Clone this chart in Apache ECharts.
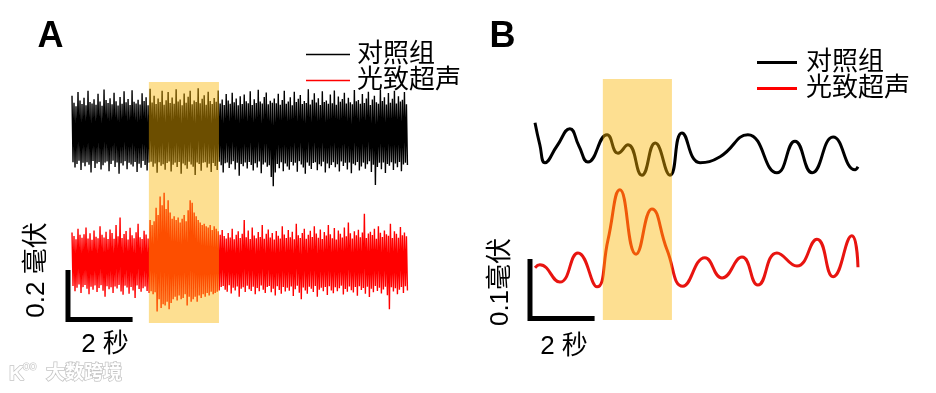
<!DOCTYPE html>
<html><head><meta charset="utf-8">
<script src="https://cdn.jsdelivr.net/npm/echarts@6/dist/echarts.min.js"></script>
<style>html,body{margin:0;padding:0;background:#fff}#c{width:936px;height:393px}</style>
</head><body><div id="c"></div>
<script>
// ---------- labels ----------
const legendNames = ['对照组', '光致超声'];
const panelLabels = ['A', 'B'];
const scaleTextA = ['0.2 毫伏', '2 秒'];
const scaleTextB = ['0.1毫伏', '2 秒'];

// ---------- Panel A: raw recordings (µV), one sample every DT_A seconds ----------
const DT_A = 0.031;
const controlA = [
  150,-118,122,-140,108,-126,165,-112,131,-150,117,-121,
  142,-135,112,-118,170,-129,125,-160,119,-113,136,-142,
  114,-124,158,-117,127,-148,110,-131,175,-120,133,-115,
  121,-155,140,-126,116,-112,162,-138,128,-119,111,-165,
  145,-123,118,-132,168,-114,124,-147,137,-121,113,-128,
  172,-136,126,-117,119,-158,134,-125,115,-141,160,-113,
  129,-130,144,-152,112,-120,178,-116,123,-137,150,-124,
  117,-161,139,-118,125,-133,170,-127,114,-149,132,-122,
  165,-115,121,-156,143,-129,118,-120,176,-138,127,-117,
  135,-165,112,-124,159,-131,122,-145,146,-116,170,-128,
  116,-137,131,-170,125,-119,180,-126,120,-153,138,-121,
  152,-118,114,-140,166,-125,129,-158,117,-122,141,-134,
  126,-150,171,-116,119,-131,135,-160,113,-123,157,-119,
  131,-142,118,-127,162,-114,124,-148,139,-121,112,-173,
  148,-126,117,-135,155,-119,128,-144,120,-117,168,-130,
  113,-152,136,-123,121,-140,174,-115,127,-163,119,-128,
  145,-120,163,-137,116,-131,130,-178,122,-215,139,-160,
  120,-126,158,-143,114,-118,133,-155,170,-124,118,-136,
  127,-149,144,-117,112,-132,166,-121,125,-157,138,-114,
  153,-128,117,-140,129,-165,121,-119,176,-133,115,-146,
  134,-122,160,-118,123,-151,140,-127,113,-135,168,-116,
  125,-160,131,-124,118,-143,155,-130,120,-118,171,-139,
  114,-127,147,-156,126,-115,137,-134,162,-121,119,-148,
  142,-119,124,-163,116,-125,173,-131,128,-117,133,-152,
  118,-136,157,-120,121,-145,139,-127,166,-114,113,-158,
  135,-129,150,-210,124,-138,118,-121,175,-147,129,-119,
  144,-162,115,-126,161,-133,122,-118,138,-150,170,-124,
  119,-139,148,-117,127,-155,134,-128,165,-121,116,-130
];
const sonoA = [
  120,-96,105,-118,92,-104,135,-90,110,-125,98,-101,
  113,-92,140,-108,95,-130,117,-99,90,-112,128,-94,
  102,-121,96,-105,145,-93,111,-116,99,-140,123,-97,
  93,-110,132,-102,118,-125,94,-98,150,-107,104,-92,
  180,-119,97,-132,114,-95,126,-103,91,-128,139,-100,
  108,-115,96,-145,121,-94,155,-109,100,-120,93,-106,
  127,-98,112,-117,95,-125,170,-118,150,-130,165,-122,
  220,-200,190,-150,265,-185,230,-170,280,-175,215,-160,
  250,-190,200,-165,175,-150,185,-140,170,-155,180,-135,
  160,-150,175,-145,190,-130,165,-175,210,-140,250,-160,
  240,-150,200,-140,185,-160,170,-135,160,-145,150,-130,
  155,-140,145,-125,140,-135,150,-120,130,-130,145,-125,
  135,-120,125,-115,110,-100,130,-96,105,-112,95,-120,
  118,-93,99,-127,135,-104,92,-115,110,-98,125,-140,
  97,-108,115,-102,170,-121,100,-95,128,-110,93,-117,
  140,-99,107,-130,96,-105,122,-118,101,-94,150,-112,
  94,-125,115,-100,132,-96,99,-122,118,-108,91,-135,
  126,-97,106,-113,95,-128,145,-101,112,-119,97,-104,
  130,-116,100,-98,123,-137,92,-110,155,-95,108,-124,
  97,-150,118,-103,135,-115,94,-128,110,-99,127,-108,
  101,-121,145,-96,116,-140,98,-112,132,-104,93,-118,
  122,-100,107,-133,150,-97,113,-115,96,-126,138,-102,
  91,-118,128,-106,115,-95,99,-131,140,-109,104,-120,
  160,-98,117,-114,95,-123,125,-101,108,-136,131,-97,
  100,-113,120,-105,195,-128,97,-99,116,-141,123,-108,
  109,-122,135,-96,94,-117,145,-104,119,-127,101,-111,
  128,-99,113,-134,106,-190,155,-102,97,-119,125,-106,
  115,-130,98,-112,142,-101,108,-125,120,-97,104,-115
];
const stimA = [2.38, 4.55];      // stimulation window (s)
const scaleA = [2, 0.2];         // scale bar: seconds, millivolts

// ---------- Panel B: filtered (smoothed) recordings (µV) ----------
const controlB_t = [0.00,0.15,0.31,0.68,1.08,1.36,1.64,2.23,2.57,2.88,3.31,3.72,4.18,4.55,5.11,5.73,6.59,7.49,8.05,8.58,9.23,9.91,10.00];
const controlB   = [49,12,-18,10,39,10,-17,29,-2,12,-39,15,-39,32,-18,-8,29,-35,18,-35,25,-30,-25];
const sonoB_t = [0.00,0.15,0.77,1.33,1.92,2.26,2.63,3.13,3.62,4.09,4.58,5.26,5.79,6.41,6.90,7.49,8.11,8.73,9.23,9.81,10.00];
const sonoB   = [7,12,-17,32,-25,54,138,30,106,37,-24,24,-10,25,-22,32,10,55,-8,61,8];
const stimB = [2.1, 4.24];
const scaleB = [2, 0.1];

// ---------- layout constants (trace baselines in mV, scale-bar origins) ----------
const offA = [0.768, 0.246];
const offB = [0.2824, 0.0807];
const barA = [-0.124, 0.014];
const barB = [-0.155, 0.0025];
const Y_MAX_A = 0.9737, Y_MAX_B = 0.405;

const FONT = '"Liberation Sans", "Noto Sans CJK SC", sans-serif';
const SHADE = 'rgba(250,180,0,0.43)';

const toPairsUniform = (arr, dt, off) => arr.map((v, i) => [i * dt, off + v / 1000]);
const toPairs = (ts, arr, off) => arr.map((v, i) => [ts[i], off + v / 1000]);
const barData = (o, s) => [[o[0], o[1] + s[1]], [o[0], o[1]], [o[0] + s[0], o[1]]];

function shadeSeries(idx, stim, ymax) {
  return {
    type: 'custom', xAxisIndex: idx, yAxisIndex: idx, z: 10, silent: true,
    data: [[stim[0], stim[1], 0, ymax]],
    encode: { x: [0, 1], y: [2, 3] },
    renderItem: (params, api) => {
      const p0 = api.coord([api.value(0), api.value(3)]);
      const p1 = api.coord([api.value(1), api.value(2)]);
      return { type: 'rect', shape: { x: p0[0], y: p0[1], width: p1[0] - p0[0], height: p1[1] - p0[1] }, style: { fill: SHADE } };
    }
  };
}

const chart = echarts.init(document.getElementById('c'), null, { renderer: 'canvas' });
chart.setOption({
  animation: false,
  backgroundColor: '#fff',
  grid: [
    { left: 65.54, right: 528.08, top: 82, bottom: 70 },
    { left: 526.925, right: 76.4, top: 79, bottom: 73 }
  ],
  xAxis: [
    { type: 'value', gridIndex: 0, min: -0.2, max: 10.4, show: false },
    { type: 'value', gridIndex: 1, min: -0.25, max: 10.05, show: false }
  ],
  yAxis: [
    { type: 'value', gridIndex: 0, min: 0, max: Y_MAX_A, show: false },
    { type: 'value', gridIndex: 1, min: 0, max: Y_MAX_B, show: false }
  ],
  legend: [
    {
      data: legendNames, orient: 'vertical', left: 306, top: 41.5, padding: 0, itemGap: 0,
      icon: 'rect', itemWidth: 44, itemHeight: 1.5, selectedMode: false,
      textStyle: { fontSize: 26, lineHeight: 26, color: '#000', fontFamily: FONT, padding: [0, 0, 0, 2] }
    },
    {
      data: legendNames, orient: 'vertical', left: 757, top: 49.5, padding: 0, itemGap: 0,
      icon: 'rect', itemWidth: 40, itemHeight: 3, selectedMode: false,
      textStyle: { fontSize: 26, lineHeight: 26, color: '#000', fontFamily: FONT, padding: [0, 0, 0, 4] }
    }
  ],
  series: [
    { name: legendNames[0], type: 'line', xAxisIndex: 0, yAxisIndex: 0, data: toPairsUniform(controlA, DT_A, offA[0]),
      symbol: 'none', color: '#000', lineStyle: { width: 1.4, color: '#000' }, z: 2 },
    { name: legendNames[1], type: 'line', xAxisIndex: 0, yAxisIndex: 0, data: toPairsUniform(sonoA, DT_A, offA[1]),
      symbol: 'none', color: '#ff0000', lineStyle: { width: 1.4, color: '#ff0000' }, z: 2 },
    shadeSeries(0, stimA, Y_MAX_A),
    { type: 'line', xAxisIndex: 0, yAxisIndex: 0, data: barData(barA, scaleA), symbol: 'none', silent: true,
      lineStyle: { width: 5, color: '#000', join: 'miter', cap: 'butt' }, z: 3 },

    { name: legendNames[0], type: 'line', xAxisIndex: 1, yAxisIndex: 1, data: toPairs(controlB_t, controlB, offB[0]),
      symbol: 'none', smooth: 0.5, color: '#000', lineStyle: { width: 3, color: '#000' }, z: 2 },
    { name: legendNames[1], type: 'line', xAxisIndex: 1, yAxisIndex: 1, data: toPairs(sonoB_t, sonoB, offB[1]),
      symbol: 'none', smooth: 0.5, color: '#e81410', lineStyle: { width: 3, color: '#e81410' }, z: 2 },
    shadeSeries(1, stimB, Y_MAX_B),
    { type: 'line', xAxisIndex: 1, yAxisIndex: 1, data: barData(barB, scaleB), symbol: 'none', silent: true,
      lineStyle: { width: 5, color: '#000', join: 'miter', cap: 'butt' }, z: 3 }
  ],
  graphic: [
    { type: 'text', x: 50.5, y: 37, style: { text: panelLabels[0], fontSize: 36, fontWeight: 'bold', fontFamily: FONT, fill: '#000', align: 'center', verticalAlign: 'middle' } },
    { type: 'text', x: 502.5, y: 37, style: { text: panelLabels[1], fontSize: 36, fontWeight: 'bold', fontFamily: FONT, fill: '#000', align: 'center', verticalAlign: 'middle' } },
    { type: 'text', x: 36.5, y: 270, rotation: Math.PI / 2, style: { text: scaleTextA[0], fontSize: 26, fontFamily: FONT, fill: '#000', align: 'center', verticalAlign: 'middle' } },
    { type: 'text', x: 105, y: 345, style: { text: scaleTextA[1], fontSize: 26, fontFamily: FONT, fill: '#000', align: 'center', verticalAlign: 'middle' } },
    { type: 'text', x: 500.5, y: 282, rotation: Math.PI / 2, style: { text: scaleTextB[0], fontSize: 26, fontFamily: FONT, fill: '#000', align: 'center', verticalAlign: 'middle' } },
    { type: 'text', x: 564, y: 347, style: { text: scaleTextB[1], fontSize: 26, fontFamily: FONT, fill: '#000', align: 'center', verticalAlign: 'middle' } },
    { type: 'text', x: 9, y: 374, style: { text: 'K', fontSize: 21, fontWeight: 'bold', fontFamily: FONT, fill: '#fff', stroke: '#c4c4c4', lineWidth: 1.5, verticalAlign: 'middle' } },
    { type: 'text', x: 23, y: 367, style: { text: 'oo', fontSize: 12, fontFamily: FONT, fill: '#fff', stroke: '#c4c4c4', lineWidth: 1.2, verticalAlign: 'middle' } },
    { type: 'text', x: 46, y: 374, style: { text: '大数跨境', fontSize: 19, fontWeight: 'bold', fontFamily: FONT, fill: '#fff', stroke: '#c4c4c4', lineWidth: 1.5, verticalAlign: 'middle' } }
  ]
});
</script></body></html>
